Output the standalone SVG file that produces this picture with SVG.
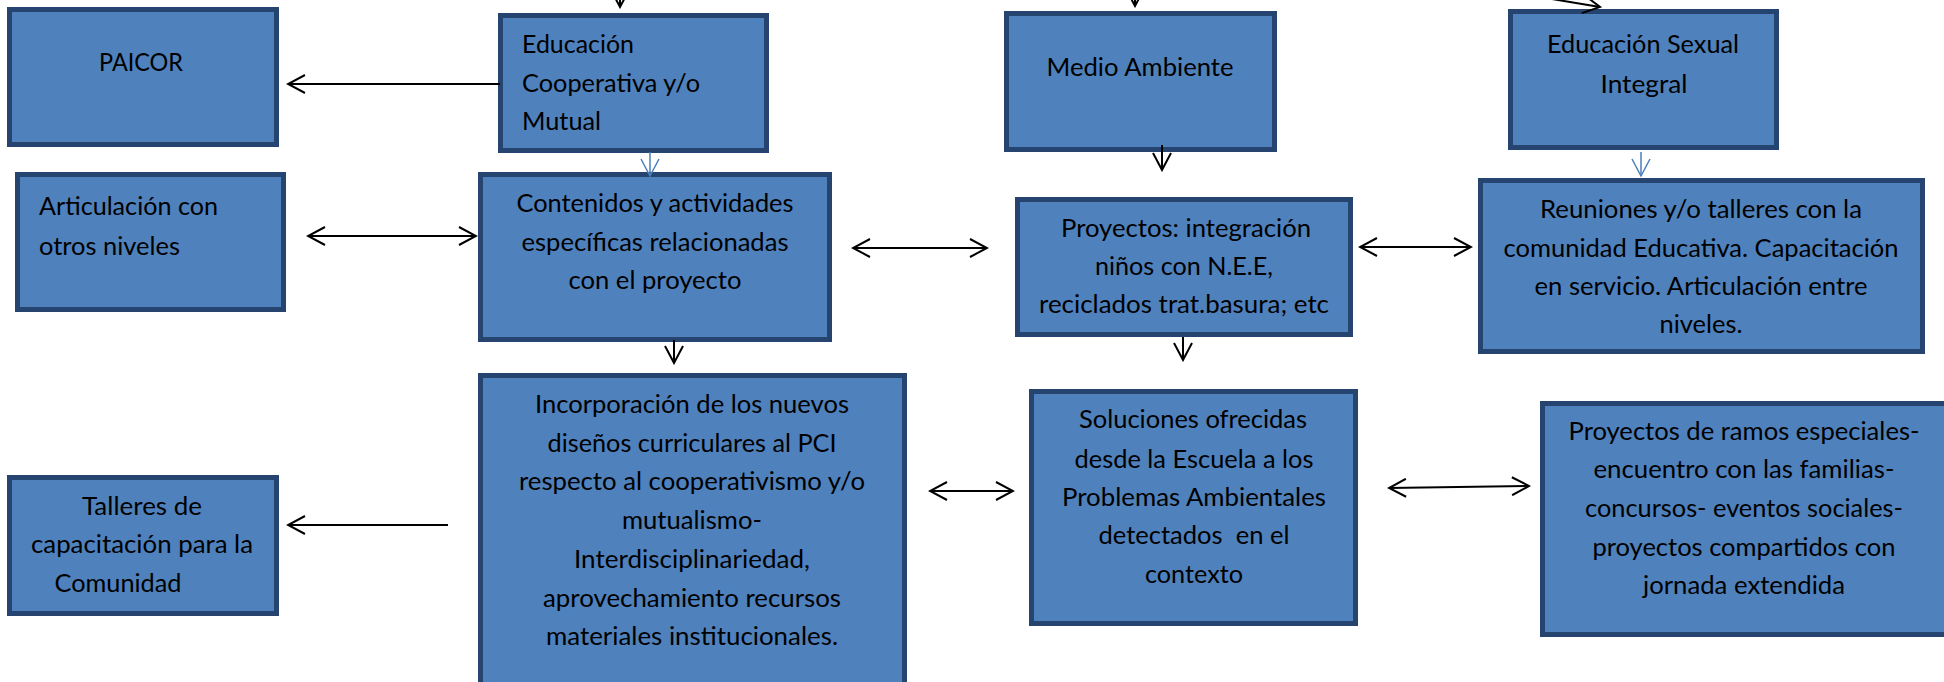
<svg xmlns="http://www.w3.org/2000/svg" width="1944" height="682" viewBox="0 0 1944 682">
<defs>
<style>
.box{fill:#4F81BD;stroke:#264470;stroke-width:5}
.t{font-family:Lato,"Open Sans",sans-serif;font-size:25.5px;fill:#000;white-space:pre}
.c{text-anchor:middle}
.k{fill:none;stroke:#000;stroke-width:2}
.b{fill:none;stroke:#4A7EBB;stroke-width:1.5}
</style>
<marker id="ah" viewBox="0 0 20 20" refX="18" refY="10" markerWidth="20" markerHeight="20" markerUnits="userSpaceOnUse" orient="auto-start-reverse">
<path d="M1,1 L18,10 L1,19" fill="none" stroke="#000" stroke-width="2"/>
</marker>
<marker id="ahb" viewBox="0 0 20 20" refX="18" refY="10" markerWidth="20" markerHeight="20" markerUnits="userSpaceOnUse" orient="auto">
<path d="M1,1 L18,10 L1,19" fill="none" stroke="#4A7EBB" stroke-width="1.5"/>
</marker>
</defs>
<rect width="1944" height="682" fill="#fff"/>

<g id="paicor">
<rect class="box" x="9.5" y="9.5" width="267" height="135"/>
<text class="t c" x="141" y="71" textLength="84" lengthAdjust="spacingAndGlyphs">PAICOR</text>
</g>
<g id="educacion-cooperativa">
<rect class="box" x="500.5" y="15.5" width="266" height="135"/>
<text class="t" x="522" y="53" textLength="112" lengthAdjust="spacingAndGlyphs">Educación</text>
<text class="t" x="522" y="92" textLength="178" lengthAdjust="spacingAndGlyphs">Cooperativa y/o</text>
<text class="t" x="522" y="130" textLength="79" lengthAdjust="spacingAndGlyphs">Mutual</text>
</g>
<g id="medio-ambiente">
<rect class="box" x="1006.5" y="13.5" width="268" height="136"/>
<text class="t c" x="1140" y="76" textLength="187" lengthAdjust="spacingAndGlyphs">Medio Ambiente</text>
</g>
<g id="educacion-sexual">
<rect class="box" x="1510.5" y="11.5" width="266" height="136"/>
<text class="t c" x="1643" y="53" textLength="192" lengthAdjust="spacingAndGlyphs">Educación Sexual</text>
<text class="t c" x="1644" y="93" textLength="87" lengthAdjust="spacingAndGlyphs">Integral</text>
</g>
<g id="articulacion">
<rect class="box" x="17.5" y="174.5" width="266" height="135"/>
<text class="t" x="39" y="215" textLength="179" lengthAdjust="spacingAndGlyphs">Articulación con</text>
<text class="t" x="39" y="255" textLength="141" lengthAdjust="spacingAndGlyphs">otros niveles</text>
</g>
<g id="contenidos">
<rect class="box" x="480.5" y="174.5" width="349" height="165"/>
<text class="t c" x="655" y="212" textLength="277" lengthAdjust="spacingAndGlyphs">Contenidos y actividades</text>
<text class="t c" x="655" y="251" textLength="267" lengthAdjust="spacingAndGlyphs">específicas relacionadas</text>
<text class="t c" x="655" y="289" textLength="173" lengthAdjust="spacingAndGlyphs">con el proyecto</text>
</g>
<g id="proyectos">
<rect class="box" x="1017.5" y="199.5" width="333" height="135"/>
<text class="t c" x="1186" y="237" textLength="250" lengthAdjust="spacingAndGlyphs">Proyectos: integración</text>
<text class="t c" x="1184" y="275" textLength="178" lengthAdjust="spacingAndGlyphs">niños con N.E.E,</text>
<text class="t c" x="1184" y="313" textLength="290" lengthAdjust="spacingAndGlyphs">reciclados trat.basura; etc</text>
</g>
<g id="reuniones">
<rect class="box" x="1480.5" y="180.5" width="442" height="171"/>
<text class="t c" x="1701" y="218" textLength="322" lengthAdjust="spacingAndGlyphs">Reuniones y/o talleres con la</text>
<text class="t c" x="1701" y="257" textLength="395" lengthAdjust="spacingAndGlyphs">comunidad Educativa. Capacitación</text>
<text class="t c" x="1701" y="295" textLength="333" lengthAdjust="spacingAndGlyphs">en servicio. Articulación entre</text>
<text class="t c" x="1701" y="333" textLength="83" lengthAdjust="spacingAndGlyphs">niveles.</text>
</g>
<g id="talleres">
<rect class="box" x="9.5" y="477.5" width="267" height="136"/>
<text class="t c" x="142" y="515" textLength="120" lengthAdjust="spacingAndGlyphs">Talleres de</text>
<text class="t c" x="142" y="553" textLength="222" lengthAdjust="spacingAndGlyphs">capacitación para la</text>
<text class="t c" x="118" y="592" textLength="127" lengthAdjust="spacingAndGlyphs">Comunidad</text>
</g>
<g id="incorporacion">
<rect class="box" x="480.5" y="375.5" width="424" height="340"/>
<text class="t c" x="692" y="413" textLength="314" lengthAdjust="spacingAndGlyphs">Incorporación de los nuevos</text>
<text class="t c" x="692" y="452" textLength="289" lengthAdjust="spacingAndGlyphs">diseños curriculares al PCI</text>
<text class="t c" x="692" y="490" textLength="346" lengthAdjust="spacingAndGlyphs">respecto al cooperativismo y/o</text>
<text class="t c" x="692" y="529" textLength="140" lengthAdjust="spacingAndGlyphs">mutualismo-</text>
<text class="t c" x="692" y="568" textLength="236" lengthAdjust="spacingAndGlyphs">Interdisciplinariedad,</text>
<text class="t c" x="692" y="607" textLength="298" lengthAdjust="spacingAndGlyphs">aprovechamiento recursos</text>
<text class="t c" x="692" y="645" textLength="292" lengthAdjust="spacingAndGlyphs">materiales institucionales.</text>
</g>
<g id="soluciones">
<rect class="box" x="1031.5" y="391.5" width="324" height="232"/>
<text class="t c" x="1193" y="428" textLength="228" lengthAdjust="spacingAndGlyphs">Soluciones ofrecidas</text>
<text class="t c" x="1194" y="468" textLength="239" lengthAdjust="spacingAndGlyphs">desde la Escuela a los</text>
<text class="t c" x="1194" y="506" textLength="264" lengthAdjust="spacingAndGlyphs">Problemas Ambientales</text>
<text class="t c" x="1194" y="544" textLength="191" lengthAdjust="spacingAndGlyphs">detectados  en el</text>
<text class="t c" x="1194" y="583" textLength="98" lengthAdjust="spacingAndGlyphs">contexto</text>
</g>
<g id="ramos-especiales">
<rect class="box" x="1542.5" y="403.5" width="410" height="231"/>
<text class="t c" x="1744" y="440" textLength="351" lengthAdjust="spacingAndGlyphs">Proyectos de ramos especiales-</text>
<text class="t c" x="1744" y="478" textLength="301" lengthAdjust="spacingAndGlyphs">encuentro con las familias-</text>
<text class="t c" x="1744" y="517" textLength="318" lengthAdjust="spacingAndGlyphs">concursos- eventos sociales-</text>
<text class="t c" x="1744" y="556" textLength="303" lengthAdjust="spacingAndGlyphs">proyectos compartidos con</text>
<text class="t c" x="1744" y="594" textLength="202" lengthAdjust="spacingAndGlyphs">jornada extendida</text>
</g>

<g id="connectors">
<line class="k" x1="620" y1="-20" x2="620" y2="7" marker-end="url(#ah)"/>
<line class="k" x1="1135" y1="-20" x2="1135" y2="6" marker-end="url(#ah)"/>
<line class="k" x1="1540" y1="-3" x2="1600" y2="7" marker-end="url(#ah)"/>
<line class="k" x1="500" y1="84" x2="288" y2="84" marker-end="url(#ah)"/>
<line class="k" x1="308" y1="236" x2="476" y2="236" marker-start="url(#ah)" marker-end="url(#ah)"/>
<line class="b" x1="650" y1="152" x2="650" y2="176" marker-end="url(#ahb)"/>
<line class="k" x1="853" y1="248" x2="987" y2="248" marker-start="url(#ah)" marker-end="url(#ah)"/>
<line class="k" x1="1162" y1="145" x2="1162" y2="170" marker-end="url(#ah)"/>
<line class="k" x1="1360" y1="247" x2="1471" y2="247" marker-start="url(#ah)" marker-end="url(#ah)"/>
<line class="b" x1="1641" y1="152" x2="1641" y2="176" marker-end="url(#ahb)"/>
<line class="k" x1="674" y1="340" x2="674" y2="363" marker-end="url(#ah)"/>
<line class="k" x1="1183" y1="337" x2="1183" y2="360" marker-end="url(#ah)"/>
<line class="k" x1="448" y1="525" x2="288" y2="525" marker-end="url(#ah)"/>
<line class="k" x1="930" y1="491" x2="1013" y2="491" marker-start="url(#ah)" marker-end="url(#ah)"/>
<line class="k" x1="1389" y1="488" x2="1529" y2="486" marker-start="url(#ah)" marker-end="url(#ah)"/>
</g>
</svg>
